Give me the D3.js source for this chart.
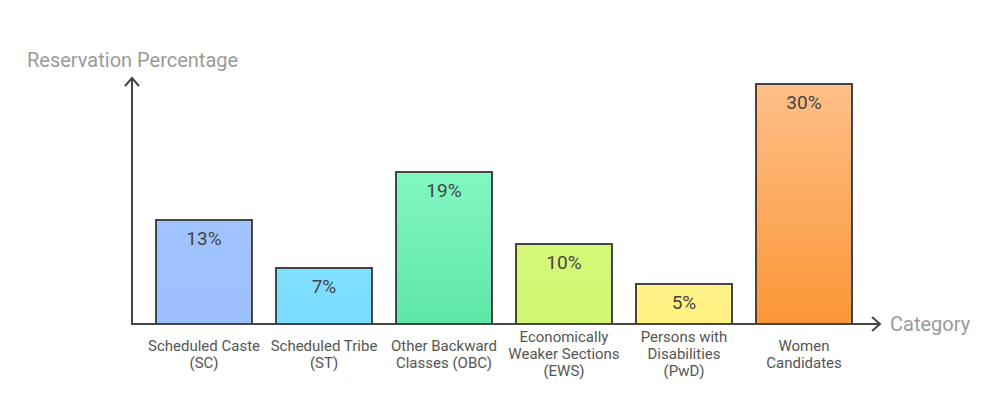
<!DOCTYPE html>
<html><head><meta charset="utf-8">
<script src="https://cdn.jsdelivr.net/npm/d3@7"></script>
<style>body{margin:0;background:#fff}svg{display:block;font-family:Roboto,"Noto Sans",sans-serif}</style>
</head><body>
<svg id="c" width="996" height="393"></svg>
<script>
const categories = [["Scheduled Caste","(SC)"],["Scheduled Tribe","(ST)"],["Other Backward","Classes (OBC)"],["Economically","Weaker Sections","(EWS)"],["Persons with","Disabilities","(PwD)"],["Women","Candidates"]];
const values = [13, 7, 19, 10, 5, 30];
const valueLabels = ["13%","7%","19%","10%","5%","30%"];
const colorsTop = ["#a0c4ff","#7fe0ff","#82f7c2","#d6f878","#fff389","#ffbf88"];
const colorsBot = ["#9cc0ff","#7adcff","#5ee6a6","#d2f572","#fff080","#fb9637"];
const yTitle = "Reservation Percentage";
const xTitle = "Category";

const svg = d3.select("#c");
const x = d3.scaleBand().domain(d3.range(values.length)).range([144, 864]).paddingInner(0.2).paddingOuter(0.1);
const y = d3.scaleLinear().domain([0, 30]).range([324, 84]);

const defs = svg.append("defs");
values.forEach((v,i)=>{
  const g = defs.append("linearGradient").attr("id","g"+i).attr("x1",0).attr("y1",0).attr("x2",0).attr("y2",1);
  g.append("stop").attr("offset","0%").attr("stop-color",colorsTop[i]);
  g.append("stop").attr("offset","100%").attr("stop-color",colorsBot[i]);
});

svg.selectAll("rect.bar").data(values).join("rect").attr("class","bar")
  .attr("x",(d,i)=>x(i)).attr("y",d=>y(d)).attr("width",x.bandwidth()).attr("height",d=>y(0)-y(d))
  .attr("fill",(d,i)=>`url(#g${i})`).attr("stroke","#454545").attr("stroke-width",2);

svg.selectAll("text.val").data(values).join("text").attr("class","val")
  .attr("x",(d,i)=>x(i)+x.bandwidth()/2).attr("y",d=>y(d)+25)
  .attr("text-anchor","middle").attr("font-size",19).attr("fill","#454545")
  .text((d,i)=>valueLabels[i]);

// axes
const axisColor = "#454545";
svg.append("line").attr("x1",132).attr("y1",y(0)).attr("x2",132).attr("y2",78).attr("stroke",axisColor).attr("stroke-width",2);
svg.append("line").attr("x1",131).attr("y1",y(0)).attr("x2",880).attr("y2",y(0)).attr("stroke",axisColor).attr("stroke-width",2);
svg.append("path").attr("d","M125,86 L132,78 L139,86").attr("fill","none").attr("stroke",axisColor).attr("stroke-width",2);
svg.append("path").attr("d",`M872,${y(0)-7} L880,${y(0)} L872,${y(0)+7}`).attr("fill","none").attr("stroke",axisColor).attr("stroke-width",2);

// category labels
const lh = 17;
categories.forEach((lines,i)=>{
  const cx = x(i)+x.bandwidth()/2;
  const startY = 354 - (lines.length-1)*lh/2 + 5;
  const t = svg.append("text").attr("text-anchor","middle").attr("font-size",15).attr("fill","#555");
  lines.forEach((s,j)=>t.append("tspan").attr("x",cx).attr("y",startY+j*lh).text(s));
});

svg.append("text").attr("x",27).attr("y",67).attr("font-size",20).attr("fill","#9a9a9a").text(yTitle);
svg.append("text").attr("x",890).attr("y",331).attr("font-size",20).attr("fill","#9a9a9a").text(xTitle);
</script>
</body></html>
